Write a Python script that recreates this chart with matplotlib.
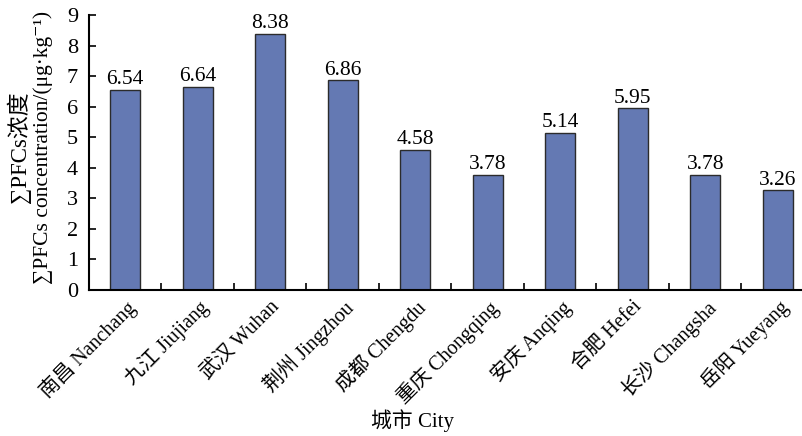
import matplotlib
matplotlib.use("Agg")
import matplotlib.pyplot as plt
import numpy as np

plt.rcParams['font.family'] = ['Liberation Serif', 'Noto Sans CJK SC', 'DejaVu Serif']
plt.rcParams['axes.unicode_minus'] = False

cities = ["南昌 Nanchang", "九江 Jiujiang", "武汉 Wuhan", "荆州 Jingzhou", "成都 Chengdu",
          "重庆 Chongqing", "安庆 Anqing", "合肥 Hefei", "长沙 Changsha", "岳阳 Yueyang"]
pfcs = [6.54, 6.64, 8.38, 6.86, 4.58, 3.78, 5.14, 5.95, 3.78, 3.26]
yticks = [0, 1, 2, 3, 4, 5, 6, 7, 8, 9]

W, H = 803, 436
fig = plt.figure(figsize=(W / 100, H / 100), dpi=100)
ax = fig.add_axes([89 / W, 1 - 290 / H, 725 / W, 275 / H])

x = np.arange(len(cities))
ax.bar(x, pfcs, width=0.42, color="#6479B3", edgecolor="#2b2b2b", linewidth=1.0, zorder=2)

for xi, v in zip(x, pfcs):
    ax.annotate(f"{v:.2f}", (xi, v), xytext=(0, 0.5), textcoords="offset points",
                ha="center", va="bottom", fontsize=15.5)

ax.set_xlim(-0.5, len(cities) - 0.5)
ax.set_ylim(0, 9)
ax.set_yticks(yticks)
ax.set_yticklabels([str(t) for t in yticks])

ax.set_xticks(x)
ax.set_xticklabels(cities, rotation=45, ha="right", rotation_mode="anchor")
ax.set_xticks(np.arange(0.5, len(cities) - 0.5, 1.0), minor=True)

ax.tick_params(axis="x", which="major", length=0, pad=5, labelsize=14.5)
ax.tick_params(axis="x", which="minor", direction="in", length=5, width=1.2, color="black")
ax.tick_params(axis="y", which="major", direction="in", length=5, width=1.2, pad=8, labelsize=16)

for s in ("top", "right"):
    ax.spines[s].set_visible(False)
for s in ("left", "bottom"):
    ax.spines[s].set_linewidth(1.5)
    ax.spines[s].set_color("black")

# Two-line vertical axis title and category title
fig.text(19 / W, 1 - 147 / H, "∑PFCs浓度", rotation=90, ha="center", va="center", fontsize=16.5)
fig.text(43 / W, 1 - 147 / H, "∑PFCs concentration/(μg·kg⁻¹)", rotation=90,
         ha="center", va="center", fontsize=15.5)
fig.text(413 / W, 1 - 421 / H, "城市 City", ha="center", va="center", fontsize=15)

fig.savefig("out.png", dpi=100)
